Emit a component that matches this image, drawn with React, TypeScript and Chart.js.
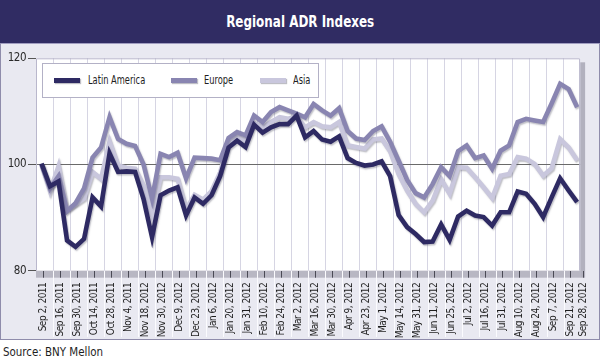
import React, { useEffect, useRef } from "react";
import { Chart, registerables } from "chart.js";

Chart.register(...registerables);

const tickLabels = [
  "Sep 2, 2011", "Sep 16, 2011", "Sep 30, 2011", "Oct 14, 2011", "Oct 28, 2011",
  "Nov 4, 2011", "Nov 18, 2012", "Nov 30, 2012", "Dec 9, 2012", "Dec 23, 2012",
  "Jan 6, 2012", "Jan 20, 2012", "Jan 31, 2012", "Feb 10, 2012", "Feb 24, 2012",
  "Mar 2, 2012", "Mar 16, 2012", "Mar 30, 2012", "Apr 9, 2012", "Apr 23, 2012",
  "May 1, 2012", "May 14, 2012", "May 31, 2012", "Jun 11, 2012", "Jun 25, 2012",
  "Jul 2, 2012", "Jul 16, 2012", "Jul 31, 2012", "Aug 10, 2012", "Aug 24, 2012",
  "Sep 7, 2012", "Sep 21, 2012", "Sep 28, 2012",
];
// position (in weekly observation index) of each tick label
const tickIndex = [
  0.2, 2.2, 4.2, 6.2, 8.2, 10.2, 12.2, 14.2, 16.2, 18.2, 20.2, 22.2, 24.2, 26.2,
  28.2, 30.2, 32.2, 34.2, 36.2, 38.2, 40.2, 42.2, 44.2, 46.2, 48.2, 50.2, 52.2,
  54.2, 56.2, 58.2, 60.2, 62.2, 63.7,
];

const latinAmerica = [
  100.2, 95.9, 96.8, 85.7, 84.5, 86.0, 93.8, 92.1, 102.1, 98.6, 98.7, 98.6,
  93.5, 86.3, 94.2, 95.1, 95.7, 90.4, 93.8, 92.6, 94.2, 97.8, 103.2, 104.5,
  103.3, 107.5, 106.0, 107.0, 107.6, 107.6, 109.2, 105.1, 106.3, 104.7, 104.3,
  105.3, 101.2, 100.3, 99.8, 100.0, 100.6, 97.8, 90.5, 88.2, 86.9, 85.4, 85.5,
  88.7, 85.8, 90.2, 91.3, 90.4, 90.1, 88.5, 91.0, 91.0, 94.9, 94.5, 92.6, 90.1,
  93.8, 97.4, 95.1, 92.9,
];
const europe = [
  100.0, 95.5, 97.8, 91.2, 92.7, 95.5, 101.3, 103.2, 108.9, 104.8, 103.9, 103.5,
  100.0, 93.6, 102.0, 101.4, 102.2, 97.4, 101.3, 101.2, 101.1, 100.8, 105.0,
  106.1, 105.5, 109.2, 108.0, 109.9, 110.8, 110.2, 109.6, 108.9, 111.4, 110.2,
  109.2, 110.6, 106.3, 104.9, 104.6, 106.3, 107.2, 104.3, 100.7, 97.1, 94.6,
  93.8, 96.3, 99.5, 97.8, 102.5, 103.6, 101.2, 101.7, 99.2, 102.6, 103.6, 108.0,
  108.6, 108.3, 108.0, 111.5, 115.2, 114.2, 110.8,
];
const asia = [
  100.0, 95.0, 99.7, 91.5, 92.5, 93.6, 98.6, 97.3, 104.3, 99.8, 99.4, 99.2,
  96.0, 90.5, 97.6, 97.6, 97.3, 91.6, 94.3, 93.4, 95.0, 98.5, 104.0, 105.3,
  104.5, 107.8, 107.0, 108.0, 108.9, 108.6, 109.0, 107.0, 108.0, 107.2, 107.0,
  108.0, 103.6, 103.3, 103.0, 104.7, 104.9, 102.5, 98.2, 95.1, 92.6, 91.0, 93.2,
  97.2, 94.5, 99.5, 99.4, 97.6, 95.7, 93.7, 97.9, 98.2, 101.4, 101.1, 100.1,
  97.9, 99.3, 104.8, 103.2, 100.8,
];
const yTicks = [80, 100, 120];

const seriesNames = ["Latin America", "Europe", "Asia"];
const seriesColors = ["#2e2a63", "#8985b1", "#c9c7dd"];

const NARROW = "'DejaVu Sans Condensed', 'DejaVu Sans', sans-serif";
const X_MIN = -0.65;
const X_MAX = 63.35;

const decorPlugin = {
  id: "decor",
  beforeDraw(chart: any) {
    const { ctx, chartArea: a } = chart;
    ctx.letterSpacing = "-0.5px";
    ctx.save();
    // right shadow
    ctx.fillStyle = "#b2b1be";
    ctx.fillRect(a.right, a.top + 4, 5, a.bottom - a.top + 3);
    // plot background
    ctx.fillStyle = "#ffffff";
    ctx.fillRect(a.left, a.top, a.right - a.left, a.bottom - a.top);
    // bottom strip
    ctx.fillStyle = "#b8b7c3";
    ctx.fillRect(a.left, a.bottom, a.right - a.left, 7);
    // separators in label area and strip
    const xg = chart.scales.xg;
    ctx.strokeStyle = "#fbfbfe";
    ctx.lineWidth = 1;
    for (const t of xg.ticks) {
      const px = Math.round(xg.getPixelForValue(t.value)) + 0.5;
      ctx.beginPath();
      ctx.moveTo(px, a.bottom);
      ctx.lineTo(px, chart.height - 3);
      ctx.stroke();
    }
    ctx.restore();
  },
  afterDraw(chart: any) {
    const { ctx, chartArea: a } = chart;
    ctx.save();
    ctx.strokeStyle = "#b9b7cc";
    ctx.lineWidth = 1;
    ctx.beginPath();
    ctx.moveTo(a.left + 0.5, a.bottom);
    ctx.lineTo(a.left + 0.5, a.top + 0.5);
    ctx.lineTo(a.right - 0.5, a.top + 0.5);
    ctx.lineTo(a.right - 0.5, a.bottom);
    ctx.stroke();
    ctx.restore();
  },
};

const shadowPlugin = {
  id: "lineShadow",
  beforeDatasetDraw(chart: any) {
    const ctx = chart.ctx;
    ctx.save();
    ctx.shadowColor = "rgba(70,70,90,0.35)";
    ctx.shadowOffsetX = 1;
    ctx.shadowOffsetY = 1.5;
    ctx.shadowBlur = 1.5;
  },
  afterDatasetDraw(chart: any) {
    chart.ctx.restore();
  },
};

function ChartView() {
  const ref = useRef<HTMLCanvasElement | null>(null);
  useEffect(() => {
    if (!ref.current) return;
    const values = [latinAmerica, europe, asia];
    const datasets = values.map((vals, s) => ({
      label: seriesNames[s],
      data: vals.map((v, i) => ({ x: i, y: v })),
      borderColor: seriesColors[s],
      backgroundColor: seriesColors[s],
      borderWidth: 4.6,
      pointRadius: 0,
      tension: 0,
      fill: false,
      xAxisID: "x",
      yAxisID: "y",
      order: s,
    }));
    const chart = new Chart(ref.current, {
      type: "line",
      data: { datasets },
      plugins: [decorPlugin, shadowPlugin],
      options: {
        responsive: false,
        animation: false,
        devicePixelRatio: 1,
        layout: { padding: { top: 15.3, right: 16.8, left: 0, bottom: 0 } },
        plugins: { legend: { display: false }, tooltip: { enabled: false }, title: { display: false } },
        scales: {
          x: {
            type: "linear",
            display: false,
            min: X_MIN,
            max: X_MAX,
          },
          xg: {
            type: "linear",
            position: "top",
            min: X_MIN,
            max: X_MAX,
            afterBuildTicks: (s: any) => {
              const t = [];
              for (let k = 1; k <= 31; k++) t.push({ value: -0.6 + 2 * k });
              s.ticks = t;
            },
            afterFit: (s: any) => { s.height = 0; },
            ticks: { display: false },
            grid: { color: "#d6d5e3", lineWidth: 1, drawTicks: false },
            border: { display: false },
          },
          xl: {
            type: "linear",
            position: "bottom",
            min: X_MIN,
            max: X_MAX,
            afterBuildTicks: (s: any) => {
              s.ticks = tickIndex.map((v) => ({ value: v }));
            },
            afterFit: (s: any) => { s.height = 69.3; },
            ticks: {
              autoSkip: false,
              maxRotation: 90,
              minRotation: 90,
              padding: 5,
              color: "#1e1e1e",
              font: { family: NARROW, size: 10 },
              callback: (_v: any, i: number) => tickLabels[i],
            },
            grid: {
              drawOnChartArea: false,
              drawTicks: true,
              tickLength: 7,
              tickColor: "#4a4a55",
              tickWidth: 1,
            },
            border: { display: false },
          },
          y: {
            type: "linear",
            position: "left",
            min: 80,
            max: 120,
            afterBuildTicks: (s: any) => {
              s.ticks = yTicks.map((v) => ({ value: v }));
            },
            afterFit: (s: any) => { s.width = 36; },
            ticks: {
              padding: 2,
              color: "#2a2a2a",
              font: { family: NARROW, size: 11.5 },
            },
            grid: {
              color: (c: any) => (c.tick && c.tick.value === 100 ? "#6a6a6a" : "rgba(0,0,0,0)"),
              lineWidth: 1,
              drawTicks: true,
              tickLength: 8,
              tickColor: "#555",
            },
            border: { display: false },
          },
        },
      },
    });
    return () => chart.destroy();
  }, []);
  return <canvas ref={ref} width={600} height={297} style={{ display: "block", width: 600, height: 297 }} />;
}

function Squeezed({ k, origin, children }: { k: number; origin: string; children: React.ReactNode }) {
  return (
    <span style={{ display: "inline-block", transform: `scaleX(${k})`, transformOrigin: origin, whiteSpace: "nowrap" }}>
      {children}
    </span>
  );
}

function LegendBox() {
  const items = [
    { left: 53, textLeft: 87 },
    { left: 170, textLeft: 203 },
    { left: 259, textLeft: 292 },
  ];
  return (
    <div
      style={{
        position: "absolute",
        left: 42,
        top: 63,
        width: 277,
        height: 35,
        boxSizing: "border-box",
        background: "#ffffff",
        border: "1px solid #b3b1c6",
      }}
    >
      {seriesNames.map((name, i) => (
        <React.Fragment key={name}>
          <div
            style={{
              position: "absolute",
              left: items[i].left - 42,
              top: 13.5,
              width: 26,
              height: 5,
              background: seriesColors[i],
              boxShadow: "1px 1px 1px rgba(70,70,90,0.35)",
            }}
          />
          <div
            style={{
              position: "absolute",
              left: items[i].textLeft - 42,
              top: 8,
              fontFamily: NARROW,
              fontSize: 11.5,
              lineHeight: "16px",
              color: "#1e1e1e",
              whiteSpace: "nowrap",
            }}
          >
            <Squeezed k={0.8} origin="left center">{name}</Squeezed>
          </div>
        </React.Fragment>
      ))}
    </div>
  );
}

export default function App() {
  return (
    <div
      style={{
        position: "absolute",
        left: 0,
        top: 0,
        width: 600,
        height: 363,
        background: "#ffffff",
        overflow: "hidden",
      }}
    >
      <div
        style={{
          position: "absolute",
          left: 0,
          top: 0,
          width: 600,
          height: 43,
          background: "#302c63",
          color: "#ffffff",
          fontFamily: NARROW,
          fontWeight: "bold",
          fontSize: 16,
          lineHeight: "43px",
          textAlign: "center",
        }}
      >
        <Squeezed k={0.83} origin="center center">Regional ADR Indexes</Squeezed>
      </div>
      <div
        style={{
          position: "absolute",
          left: 0,
          top: 43,
          width: 600,
          height: 297,
          boxSizing: "border-box",
          background: "#e9e9f1",
          borderLeft: "1px solid #8f8cab",
          borderRight: "1px solid #8f8cab",
          borderBottom: "1px solid #8f8cab",
          borderTop: "1px solid #a09dc0",
        }}
      />
      <div style={{ position: "absolute", left: 0, top: 43 }}>
        <ChartView />
      </div>
      <LegendBox />
      <div
        style={{
          position: "absolute",
          left: 3,
          top: 343,
          fontFamily: NARROW,
          fontSize: 13,
          lineHeight: "18px",
          color: "#1e1e1e",
        }}
      >
        <Squeezed k={0.88} origin="left center">Source: BNY Mellon</Squeezed>
      </div>
    </div>
  );
}
